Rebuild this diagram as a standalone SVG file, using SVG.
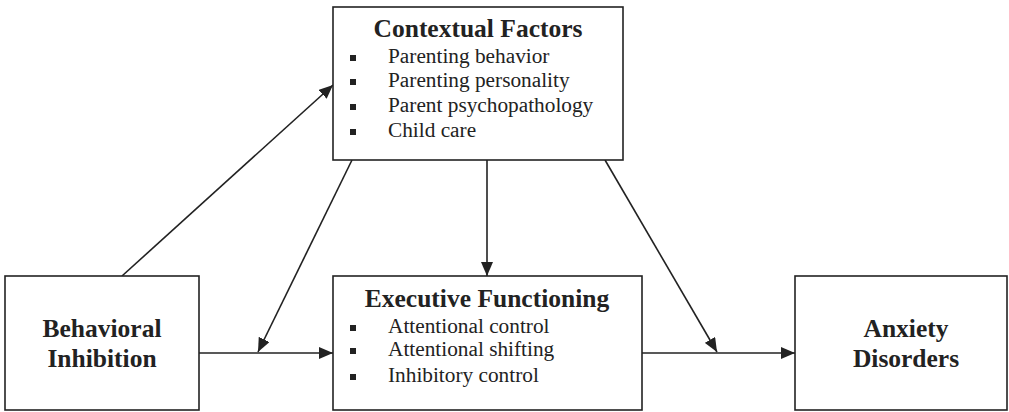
<svg xmlns="http://www.w3.org/2000/svg" width="1009" height="412" viewBox="0 0 1009 412">
<style>
.box{fill:#fff;stroke:#222;stroke-width:1.6}
.t{font-family:"Liberation Serif","Times New Roman",serif;fill:#222}
.h{font-weight:bold;font-size:25.5px;text-anchor:middle}
.i{font-size:21.3px}
.b{fill:#222}
.c{stroke:#222;stroke-width:1.6;fill:none}
</style>
<defs>
<marker id="ah" viewBox="0 0 14 12" refX="14" refY="6" markerWidth="14" markerHeight="12" markerUnits="userSpaceOnUse" orient="auto">
<path d="M0,0 L14,6 L0,12 Z" fill="#222"/>
</marker>
</defs>
<rect width="1009" height="412" fill="#fff"/>
<g id="connectors">
<line class="c" x1="122" y1="276" x2="333" y2="85" marker-end="url(#ah)"/>
<line class="c" x1="352" y1="160" x2="258" y2="352" marker-end="url(#ah)"/>
<line class="c" x1="199" y1="353" x2="333" y2="353" marker-end="url(#ah)"/>
<line class="c" x1="487" y1="160" x2="487" y2="276" marker-end="url(#ah)"/>
<line class="c" x1="605" y1="160" x2="717" y2="352" marker-end="url(#ah)"/>
<line class="c" x1="642" y1="353" x2="795" y2="353" marker-end="url(#ah)"/>
</g>
<g id="contextual">
<rect class="box" x="333" y="7" width="290" height="153"/>
<text class="t h" x="478" y="37">Contextual Factors</text>
<rect class="b" x="350" y="55" width="6" height="6"/>
<rect class="b" x="350" y="79" width="6" height="6"/>
<rect class="b" x="350" y="104" width="6" height="6"/>
<rect class="b" x="350" y="129" width="6" height="6"/>
<text class="t i" x="388" y="63">Parenting behavior</text>
<text class="t i" x="388" y="87">Parenting personality</text>
<text class="t i" x="388" y="112">Parent psychopathology</text>
<text class="t i" x="388" y="137">Child care</text>
</g>
<g id="behavioral">
<rect class="box" x="5" y="276" width="194" height="134"/>
<text class="t h" x="102" y="337">Behavioral</text>
<text class="t h" x="102" y="367">Inhibition</text>
</g>
<g id="executive">
<rect class="box" x="333" y="276" width="309" height="134"/>
<text class="t h" x="487" y="307">Executive Functioning</text>
<rect class="b" x="350" y="325" width="6" height="6"/>
<rect class="b" x="350" y="348" width="6" height="6"/>
<rect class="b" x="350" y="374" width="6" height="6"/>
<text class="t i" x="388" y="333">Attentional control</text>
<text class="t i" x="388" y="356">Attentional shifting</text>
<text class="t i" x="388" y="382">Inhibitory control</text>
</g>
<g id="anxiety">
<rect class="box" x="795" y="276" width="212" height="134"/>
<text class="t h" x="906" y="337">Anxiety</text>
<text class="t h" x="906" y="367">Disorders</text>
</g>
</svg>
